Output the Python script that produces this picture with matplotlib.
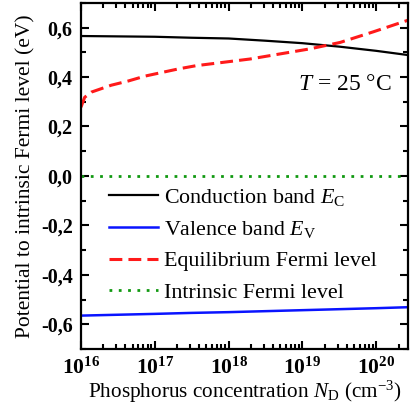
import numpy as np
import matplotlib
matplotlib.use('Agg')
from matplotlib import pyplot as plt
from matplotlib.ticker import FuncFormatter, LogLocator, MultipleLocator

plt.rcParams['font.family'] = 'Liberation Serif'
plt.rcParams['mathtext.fontset'] = 'custom'
plt.rcParams['mathtext.rm'] = 'Liberation Serif'
plt.rcParams['mathtext.it'] = 'Liberation Serif:italic'
plt.rcParams['mathtext.bf'] = 'Liberation Serif:bold'

# log10 of phosphorus concentration (cm^-3) and band / Fermi energies (eV)
log_n_fermi = [16.0, 16.05, 16.14, 16.41, 16.64, 16.87, 17.32, 17.56, 18.29, 19.1, 19.51, 19.96, 20.43]
e_fermi = [0.278, 0.318, 0.339, 0.367, 0.384, 0.404, 0.433, 0.446, 0.473, 0.514, 0.54, 0.583, 0.63]

log_n_bands = [16.0, 17.0, 17.5, 18.0, 18.5, 19.0, 19.5, 20.0, 20.43]
e_cond = [0.566, 0.563, 0.559, 0.556, 0.547, 0.537, 0.523, 0.506, 0.489]
e_val = [-0.565, -0.558, -0.554, -0.551, -0.547, -0.543, -0.539, -0.535, -0.531]

n_fermi = 10 ** np.array(log_n_fermi)
n_bands = 10 ** np.array(log_n_bands)

fig = plt.figure(figsize=(4.11, 4.13), dpi=100)
ax = fig.add_axes([0.197, 0.155, 0.796, 0.838])

ax.plot(n_bands, e_cond, color='black', lw=1.6, label=r'Conduction band $E_\mathrm{C}$')
ax.plot(n_bands, e_val, color='#0a14ff', lw=1.8, label=r'Valence band $E_\mathrm{V}$')
ax.plot(n_fermi, e_fermi, color='#ff1a1a', lw=2.2, ls=(0, (4.2, 2.0)), label='Equilibrium Fermi level')
ax.plot([1e16, 2.7e20], [0, 0], color='#119911', lw=2.0, ls=(0, (1, 2.35)), label='Intrinsic Fermi level')

ax.set_xscale('log')
ax.set_xlim(1e16, 2.7e20)
ax.set_ylim(-0.7, 0.7)

ax.yaxis.set_major_locator(MultipleLocator(0.2))
ax.yaxis.set_minor_locator(MultipleLocator(0.1))
ax.yaxis.set_major_formatter(FuncFormatter(lambda v, p: f"{v:.1f}".replace('.', ',').replace('−', '-')))
ax.xaxis.set_major_locator(LogLocator(base=10, numticks=10))
ax.xaxis.set_minor_locator(LogLocator(base=10, subs=np.arange(2, 10), numticks=20))
ax.xaxis.set_major_formatter(FuncFormatter(lambda v, p: r'$\mathbf{10^{%d}}$' % round(np.log10(v))))

ax.tick_params(which='both', direction='in', top=True, right=True, width=1.5)
ax.tick_params(which='major', length=6, pad=6)
ax.tick_params(axis='y', which='major', labelsize=14.5)
ax.tick_params(axis='x', which='major', labelsize=15.5)
ax.tick_params(which='minor', length=3.5)
for lbl in ax.get_yticklabels():
    lbl.set_fontweight('bold')
for s in ax.spines.values():
    s.set_linewidth(1.6)

ax.set_xlabel(r'Phosphorus concentration $N_\mathrm{D}$ (cm$^{-3}$)', fontsize=15.3, labelpad=0)
ax.set_ylabel('Potential to intrinsic Fermi level (eV)', fontsize=15.5, labelpad=4)

ax.text(0.951, 0.763, r'$T$ = 25 °C', transform=ax.transAxes, ha='right', va='center', fontsize=17)

ax.legend(loc='upper left', bbox_to_anchor=(0.085, 0.468), frameon=False, fontsize=15.8,
          handlelength=2.25, handletextpad=0.27, labelspacing=0.5, borderpad=0, borderaxespad=0)

fig.savefig('out.png', dpi=100)
